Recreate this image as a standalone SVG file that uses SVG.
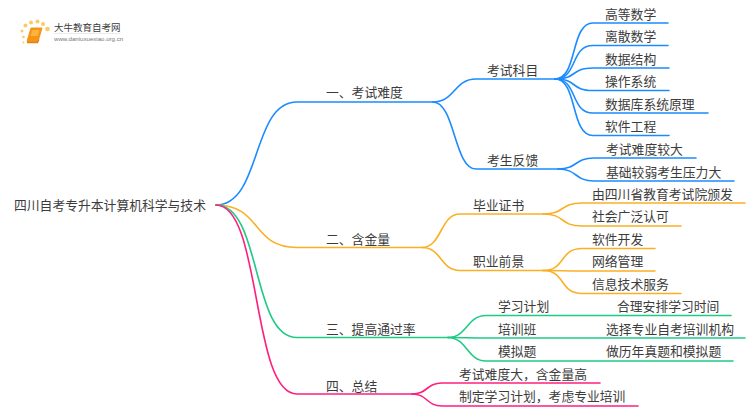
<svg xmlns="http://www.w3.org/2000/svg" width="750" height="410" viewBox="0 0 750 410">
<style>
text{font-family:"Liberation Sans","Noto Sans CJK SC",sans-serif;font-size:12.800px;fill:#3c3c3c}
.c path{fill:none;stroke-width:1.6;stroke-linecap:round}
.b path{stroke:#1a8cff}.o path{stroke:#fbb024}.g path{stroke:#1fca85}.p path{stroke:#ff1f7d}
</style>
<rect width="750" height="410" fill="#fff"/>
<g id="logo">
<g fill="#fbc14a" opacity=".85"><circle cx="25.500" cy="25.500" r="2"/><circle cx="31" cy="22.500" r="2"/><circle cx="37.500" cy="21.500" r="2"/><circle cx="43" cy="24" r="2"/><circle cx="47.500" cy="29" r="2.300"/><circle cx="22" cy="31" r="1.500"/><circle cx="23.500" cy="37" r="1.300"/><circle cx="23.500" cy="42.500" r="1"/></g>
<path d="M31 28H42L38 41.500H27Z" fill="#f59518" stroke="#f59518" stroke-linejoin="round"/><path d="M32.500 30H39.500L37.500 36H30.500Z" fill="#fbb53c"/><path d="M27 42.500H37.500L39 39.500" fill="none" stroke="#e57f10" stroke-width="1.300"/>
<text x="54" y="31" style="font-size:9.500px">大牛教育自考网</text>
<path d="M54 33.500H120" stroke="#ddd" stroke-width=".6"/>
<text x="54" y="40.500" style="font-size:6.100px;fill:#777">www.daniuxuexiao.org.cn</text>
</g>
<g id="connectors" class="c">
<g class="b">
<path d="M216 205C262 205 251 102 297 102H433"/>
<path d="M433 102C455 102 454 79 476 79H555"/>
<path d="M433 102C455 102 454 169 476 169H558"/>
<path d="M555 79C578 79 570 23 593 23H668"/>
<path d="M555 79C578 79 570 45.500 593 45.500H668"/>
<path d="M555 79C578 79 570 68 593 68H669"/>
<path d="M555 79C578 79 570 90.500 593 90.500H669"/>
<path d="M555 79C578 79 570 113 593 113H708"/>
<path d="M555 79C578 79 570 135.500 593 135.500H669"/>
<path d="M558 169C578 169 574 158 594 158H696"/>
<path d="M558 169C578 169 574 181 594 181H734"/>
</g>
<g class="o">
<path d="M216 205C262 205 251 247.500 297 247.500H422"/>
<path d="M422 247.500C442 247.500 440 214 460 214H543"/>
<path d="M422 247.500C442 247.500 440 270.500 460 270.500H543"/>
<path d="M543 214C566 214 559 203 582 203H745"/>
<path d="M543 214C566 214 559 226 582 226H681"/>
<path d="M543 270.500C566 270.500 559 248.500 582 248.500H655"/>
<path d="M543 270.500C566 270.500 559 271 582 271H655"/>
<path d="M543 270.500C566 270.500 559 293.500 582 293.500H681"/>
</g>
<g class="g">
<path d="M216 205C262 205 251 337.500 297 337.500H448"/>
<path d="M448 337.500C467 337.500 467 315.500 486 315.500H731"/>
<path d="M448 337.500C467 337.500 467 338 486 338H745"/>
<path d="M448 337.500C467 337.500 467 361 486 361H733"/>
</g>
<g class="p">
<path d="M216 205C262 205 251 394 297 394H412"/>
<path d="M412 394C428 394 426 383 442 383H600"/>
<path d="M412 394C428 394 426 406 442 406H638"/>
</g>
</g>
<g id="root"><text x="14" y="210">四川自考专升本计算机科学与技术</text></g>
<g id="n1"><text x="326" y="97">一、考试难度</text></g>
<g id="n2"><text x="326" y="244">二、含金量</text></g>
<g id="n3"><text x="326" y="334">三、提高通过率</text></g>
<g id="n4"><text x="326" y="391">四、总结</text></g>
<g id="n1a"><text x="487" y="75">考试科目</text></g>
<g id="n1b"><text x="487" y="165">考生反馈</text></g>
<g id="n1a1"><text x="605" y="19">高等数学</text></g>
<g id="n1a2"><text x="605" y="41">离散数学</text></g>
<g id="n1a3"><text x="605" y="64">数据结构</text></g>
<g id="n1a4"><text x="605" y="86">操作系统</text></g>
<g id="n1a5"><text x="605" y="109">数据库系统原理</text></g>
<g id="n1a6"><text x="605" y="131">软件工程</text></g>
<g id="n1b1"><text x="606" y="154">考试难度较大</text></g>
<g id="n1b2"><text x="606" y="176.500">基础较弱考生压力大</text></g>
<g id="n2a"><text x="473" y="210">毕业证书</text></g>
<g id="n2b"><text x="473" y="266">职业前景</text></g>
<g id="n2a1"><text x="592" y="199">由四川省教育考试院颁发</text></g>
<g id="n2a2"><text x="592" y="221">社会广泛认可</text></g>
<g id="n2b1"><text x="592" y="244">软件开发</text></g>
<g id="n2b2"><text x="592" y="266">网络管理</text></g>
<g id="n2b3"><text x="592" y="289">信息技术服务</text></g>
<g id="n3a"><text x="498" y="311">学习计划</text></g>
<g id="n3a1"><text x="617" y="311">合理安排学习时间</text></g>
<g id="n3b"><text x="498" y="334">培训班</text></g>
<g id="n3b1"><text x="606" y="334">选择专业自考培训机构</text></g>
<g id="n3c"><text x="498" y="356">模拟题</text></g>
<g id="n3c1"><text x="606" y="356">做历年真题和模拟题</text></g>
<g id="n4a"><text x="459" y="379">考试难度大，含金量高</text></g>
<g id="n4b"><text x="459" y="401">制定学习计划，考虑专业培训</text></g>
</svg>
